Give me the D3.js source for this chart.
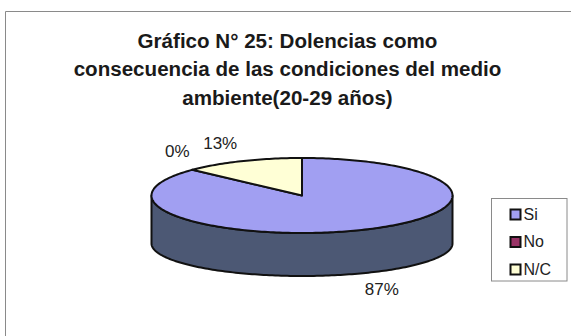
<!DOCTYPE html>
<html>
<head>
<meta charset="utf-8">
<script src="https://cdn.jsdelivr.net/npm/d3@7"></script>
<style>
  html, body { margin: 0; padding: 0; background: #fff; }
  svg { display: block; }
</style>
</head>
<body>
<svg id="chart" width="571" height="336"></svg>
<script>
// Chart data
const titleLines = ["Gráfico N° 25: Dolencias como", "consecuencia de las condiciones del medio", "ambiente(20-29 años)"];
const categories = ["Si", "No", "N/C"];
const values = [87, 0, 13];
const labels = ["87%", "0%", "13%"];

// Styling
const topColors = ["#a19ff2", "#993366", "#ffffd6"];
const sideColors = ["#4c5874", "#5a1f3c", "#a8a880"];
const labelOffsets = [[20, 65], [-15, -12.5], [-22, -12]];
const font = "Liberation Sans, Arial, sans-serif";

const svg = d3.select("#chart");
const W = 571, H = 336;

// Frame: left and top edges
svg.append("path")
  .attr("d", `M5.5,${H} V11.5 H${W}`)
  .attr("fill", "none")
  .attr("stroke", "#8a8a8a")
  .attr("stroke-width", 1);

// Title, sized so the widest line spans the header area
const title = svg.append("text")
  .attr("text-anchor", "middle")
  .attr("font-family", font)
  .attr("font-weight", "bold")
  .attr("font-size", 19)
  .attr("fill", "#1a1a1a");
const spans = titleLines.map((t, i) =>
  title.append("tspan").attr("x", 287.5).attr("y", 47.5 + i * 28.5).text(t));
const widest = d3.max(spans, s => s.node().getComputedTextLength());
if (widest > 0) title.attr("font-size", 19 * 428 / widest);

// 3D pie geometry: top ellipse and the (slightly flatter) base ellipse
const cx = 302, rx = 150.5;
const cyTop = 195.5, ryTop = 37.5;
const cyBot = 243.5, ryBot = 32.5;
const ptTop = a => [cx + rx * Math.sin(a), cyTop - ryTop * Math.cos(a)];
const ptBot = a => [cx + rx * Math.sin(a), cyBot - ryBot * Math.cos(a)];

const pie = d3.pie().sort(null).startAngle(0).endAngle(2 * Math.PI);
const arcs = pie(values);

function arcPoints(f, a0, a1) {
  const n = Math.max(2, Math.ceil(Math.abs(a1 - a0) / 0.02));
  return d3.range(n + 1).map(i => f(a0 + (a1 - a0) * i / n));
}

const line = d3.line();
const g = svg.append("g");

// Side walls: only the front half (angles between PI/2 and 3PI/2) is visible
arcs.forEach((d, i) => {
  const a0 = Math.max(d.startAngle, Math.PI / 2);
  const a1 = Math.min(d.endAngle, 3 * Math.PI / 2);
  if (a1 <= a0) return;
  const pts = arcPoints(ptTop, a0, a1).concat(arcPoints(ptBot, a1, a0));
  g.append("path")
    .attr("d", line(pts) + "Z")
    .attr("fill", sideColors[i])
    .attr("stroke", "#111")
    .attr("stroke-width", 2)
    .attr("stroke-linejoin", "round");
});

// Top faces
arcs.forEach((d, i) => {
  if (d.endAngle - d.startAngle <= 0) return;
  const pts = [[cx, cyTop]].concat(arcPoints(ptTop, d.startAngle, d.endAngle));
  g.append("path")
    .attr("d", line(pts) + "Z")
    .attr("fill", topColors[i])
    .attr("stroke", "#111")
    .attr("stroke-width", 2)
    .attr("stroke-linejoin", "round");
});

// Percentage labels, placed off the rim at each slice's mid angle
arcs.forEach((d, i) => {
  const p = ptTop((d.startAngle + d.endAngle) / 2);
  svg.append("text")
    .attr("x", p[0] + labelOffsets[i][0])
    .attr("y", p[1] + labelOffsets[i][1])
    .attr("text-anchor", "middle")
    .attr("font-family", font)
    .attr("font-size", 17)
    .attr("fill", "#222")
    .text(labels[i]);
});

// Legend
const legend = svg.append("g");
legend.append("rect")
  .attr("x", 491.5).attr("y", 198.5)
  .attr("width", 75.5).attr("height", 82.5)
  .attr("fill", "#fff")
  .attr("stroke", "#8a8a8a")
  .attr("stroke-width", 1);
categories.forEach((c, i) => {
  const y = 209.5 + i * 27.5;
  legend.append("rect")
    .attr("x", 510.5).attr("y", y)
    .attr("width", 10).attr("height", 10)
    .attr("fill", topColors[i])
    .attr("stroke", "#111")
    .attr("stroke-width", 2);
  legend.append("text")
    .attr("x", 523.5).attr("y", y + 10)
    .attr("font-family", font)
    .attr("font-size", 16)
    .attr("fill", "#222")
    .text(c);
});
</script>
</body>
</html>
